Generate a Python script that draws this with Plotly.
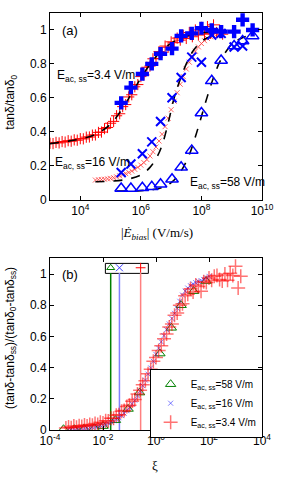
import plotly.graph_objects as go

# ---------------- panel (a) data ----------------
# dense red "+" series, E_ac,ss = 3.4 V/m
red_a_E = [1.00e3, 1.26e3, 1.58e3, 2.00e3, 2.51e3, 3.16e3, 3.98e3, 5.01e3, 6.31e3, 7.94e3,
           1.00e4, 1.26e4, 1.58e4, 2.00e4, 2.51e4, 3.16e4, 3.98e4, 5.01e4, 6.31e4, 7.94e4,
           1.00e5, 1.26e5, 1.58e5, 2.00e5, 2.51e5, 3.16e5, 3.98e5, 5.01e5, 6.31e5, 7.94e5,
           1.00e6, 1.26e6, 1.58e6, 2.00e6, 2.51e6, 3.16e6, 3.98e6, 5.01e6, 6.31e6, 7.94e6,
           1.00e7, 1.26e7, 1.58e7, 2.00e7, 2.51e7, 3.16e7, 3.98e7, 5.01e7, 6.31e7, 7.94e7,
           1.00e8, 1.26e8, 1.58e8, 2.00e8, 2.51e8, 3.16e8, 3.98e8, 5.01e8]
red_a_tan = [0.332, 0.330, 0.337, 0.334, 0.342, 0.339, 0.347, 0.344, 0.352, 0.350,
             0.359, 0.358, 0.368, 0.369, 0.380, 0.381, 0.396, 0.398, 0.418, 0.425,
             0.450, 0.461, 0.494, 0.506, 0.548, 0.560, 0.605, 0.618, 0.665, 0.678,
             0.725, 0.735, 0.780, 0.787, 0.830, 0.832, 0.872, 0.868, 0.905, 0.898,
             0.930, 0.925, 0.952, 0.940, 0.968, 0.950, 0.985, 0.960, 1.000, 0.970,
             1.015, 0.975, 1.020, 0.980, 1.030, 0.985, 1.000, 0.975]

# dense pink "x" series, E_ac,ss = 16 V/m
pink_a_E = [3.16e4, 3.98e4, 5.01e4, 6.31e4, 7.94e4,
            1.00e5, 1.26e5, 1.58e5, 2.00e5, 2.51e5, 3.16e5, 3.98e5, 5.01e5, 6.31e5, 7.94e5,
            1.00e6, 1.26e6, 1.58e6, 2.00e6, 2.51e6, 3.16e6, 3.98e6, 5.01e6, 6.31e6, 7.94e6,
            1.00e7, 1.26e7, 1.58e7, 2.00e7, 2.51e7, 3.16e7, 3.98e7, 5.01e7, 6.31e7, 7.94e7,
            1.00e8, 1.26e8, 1.58e8, 2.00e8, 2.51e8, 3.16e8]
pink_a_tan = [0.115, 0.117, 0.118, 0.120, 0.122,
              0.125, 0.129, 0.134, 0.140, 0.146, 0.153, 0.160, 0.168, 0.178, 0.190,
              0.203, 0.218, 0.236, 0.257, 0.282, 0.310, 0.345, 0.385, 0.430, 0.480,
              0.530, 0.580, 0.630, 0.680, 0.725, 0.770, 0.810, 0.845, 0.875, 0.900,
              0.920, 0.937, 0.950, 0.960, 0.968, 0.975]

# sparse blue markers (common E grid)
blue_E = [2.24e5, 4.68e5, 1.12e6, 2.29e6, 4.47e6, 1.07e7, 2.14e7, 4.79e7, 1.00e8,
          2.19e8, 4.47e8, 1.20e9, 2.29e9, 4.90e9]
blue_plus_tan = [0.57, 0.66, 0.74, 0.80, 0.86, 0.89, 0.965, 0.98, 1.01, 1.00, 0.99, 0.99, 1.06, 1.00]
blue_x_tan = [0.16, 0.21, 0.27, 0.34, 0.46, 0.60, 0.72, 0.84, 0.81, 0.97, 0.98, 0.90, 0.905]
blue_tri_tan = [0.065, 0.065, 0.07, 0.075, 0.09, 0.12, 0.19, 0.29, 0.51, 0.70, 0.82, 0.905, 0.935, 0.965]

# dashed fits
fit34_E = [1.00e3, 3.16e3, 1.00e4, 3.16e4, 1.00e5, 2.00e5, 3.98e5, 7.94e5, 1.58e6, 3.16e6,
           6.31e6, 1.26e7, 2.51e7, 5.01e7, 1.00e8, 2.00e8, 3.98e8, 6.31e8]
fit34_tan = [0.330, 0.342, 0.357, 0.384, 0.445, 0.513, 0.597, 0.687, 0.771, 0.842,
             0.896, 0.933, 0.958, 0.973, 0.983, 0.988, 0.992, 0.994]
fit16_E = [3.16e4, 1.00e5, 3.16e5, 1.00e6, 2.00e6, 3.16e6, 5.01e6, 7.94e6, 1.26e7, 2.00e7,
           3.16e7, 5.01e7, 7.94e7, 1.26e8, 2.00e8, 3.98e8, 6.31e8]
fit16_tan = [0.105, 0.108, 0.118, 0.145, 0.19, 0.24, 0.32, 0.45, 0.60, 0.71,
             0.80, 0.87, 0.915, 0.945, 0.962, 0.978, 0.985]
fit58_E = [1.58e5, 1.00e6, 3.16e6, 6.31e6, 1.00e7, 1.58e7, 2.51e7, 3.98e7, 6.31e7, 1.00e8,
           1.58e8, 2.51e8, 3.98e8, 6.31e8, 1.00e9, 2.00e9, 5.01e9]
fit58_tan = [0.05, 0.053, 0.062, 0.078, 0.10, 0.135, 0.19, 0.265, 0.37, 0.49,
             0.61, 0.72, 0.81, 0.87, 0.915, 0.95, 0.975]

# ---------------- panel (b) data ----------------
green_xi = [3.24e-4, 8.32e-4, 1.91e-3, 4.68e-3, 1.00e-2, 2.95e-2, 8.91e-2, 0.240, 1.41, 3.80, 8.91, 26.3, 77.6]
green_norm = [0.005, 0.005, 0.008, 0.012, 0.025, 0.063, 0.135, 0.24, 0.49, 0.655, 0.80, 0.89, 0.955]

bluex_xi = [5.01e-4, 6.31e-4, 7.94e-4, 1.00e-3, 1.26e-3, 1.58e-3, 2.00e-3, 2.51e-3, 3.16e-3, 3.98e-3,
            5.01e-3, 6.31e-3, 7.94e-3, 1.00e-2, 1.26e-2, 1.58e-2, 2.00e-2, 2.51e-2, 3.16e-2, 3.98e-2,
            5.01e-2, 6.31e-2, 7.94e-2, 0.100, 0.126, 0.158, 0.200, 0.251, 0.316, 0.398,
            0.501, 0.631, 0.794, 1.00, 1.26, 1.58, 2.00, 2.51, 3.16, 3.98,
            5.01, 6.31, 7.94, 10.0, 12.6, 15.8, 20.0, 25.1, 31.6, 39.8,
            50.1, 63.1, 79.4, 100.0]
bluex_norm = [0.004, 0.006, 0.008, 0.009, 0.011, 0.012, 0.013, 0.015, 0.017, 0.019,
              0.022, 0.025, 0.029, 0.033, 0.038, 0.044, 0.051, 0.059, 0.068, 0.079,
              0.092, 0.107, 0.124, 0.144, 0.166, 0.191, 0.219, 0.25, 0.284, 0.32,
              0.358, 0.398, 0.44, 0.484, 0.525, 0.565, 0.605, 0.643, 0.68, 0.715,
              0.748, 0.78, 0.825, 0.865, 0.89, 0.91, 0.925, 0.937, 0.945, 0.952,
              0.958, 0.965, 0.975, 0.985]

redp_xi = [3.98e-4, 5.01e-4, 6.31e-4, 7.94e-4, 1.00e-3, 1.26e-3, 1.58e-3, 2.00e-3, 2.51e-3, 3.16e-3,
           3.98e-3, 5.01e-3, 6.31e-3, 7.94e-3, 1.00e-2, 1.26e-2, 1.58e-2, 2.00e-2, 2.51e-2, 3.16e-2,
           3.98e-2, 5.01e-2, 6.31e-2, 7.94e-2, 0.100, 0.126, 0.158, 0.200, 0.251, 0.316,
           0.398, 0.501, 0.631, 0.794, 1.00, 1.26, 1.58, 2.00, 2.51, 3.16,
           3.98, 5.01, 6.31, 7.94, 10.0, 12.6, 15.8, 20.0, 25.1, 31.6,
           39.8, 50.1, 63.1, 79.4, 100.0, 126.0, 158.0, 200.0, 251.0, 316.0,
           398.0, 501.0, 631.0, 794.0, 1000.0, 1260.0, 1580.0]
redp_norm = [0.012, 0.020, 0.015, 0.025, 0.018, 0.028, 0.022, 0.032, 0.026, 0.036,
             0.030, 0.042, 0.036, 0.050, 0.045, 0.060, 0.058, 0.075, 0.075, 0.095,
             0.098, 0.120, 0.125, 0.150, 0.158, 0.185, 0.195, 0.230, 0.255, 0.290,
             0.315, 0.360, 0.390, 0.440, 0.465, 0.510, 0.540, 0.585, 0.615, 0.660,
             0.680, 0.735, 0.750, 0.800, 0.810, 0.860, 0.870, 0.905, 0.885, 0.930,
             0.920, 0.890, 0.950, 0.945, 0.975, 0.960, 0.985, 0.990, 0.965, 0.955,
             1.000, 0.960, 1.005, 0.990, 1.050, 0.910, 0.985]

# onset markers (vertical lines) for the three data sets: 58, 16, 3.4 V/m
onset_xi = [0.0195, 0.0417, 0.263]
onset_colors = ["rgb(0,128,0)", "rgb(128,128,255)", "rgb(255,128,128)"]
onset_symbols = ["triangle-up-open", "x-thin-open", "cross-thin-open"]
onset_marker_colors = ["rgb(0,128,0)", "rgb(60,60,255)", "rgb(255,0,0)"]

legend_names = ["E<sub>ac, ss</sub>=58 V/m", "E<sub>ac, ss</sub>=16 V/m", "E<sub>ac, ss</sub>=3.4 V/m"]

FONT = "Liberation Sans, Arial, sans-serif"
SERIF = "Liberation Serif, DejaVu Serif, serif"

RED = "rgb(255,0,0)"
BLUE = "rgb(0,0,255)"
GREEN = "rgb(0,128,0)"

fig = go.Figure()

# ---- panel (a) traces ----
fig.add_trace(go.Scatter(x=red_a_E, y=red_a_tan, mode="markers", xaxis="x", yaxis="y", showlegend=False,
                         marker=dict(symbol="cross-thin-open", size=8, color=RED, line=dict(width=1, color=RED))))
fig.add_trace(go.Scatter(x=pink_a_E, y=pink_a_tan, mode="markers", xaxis="x", yaxis="y", showlegend=False,
                         marker=dict(symbol="x-thin-open", size=5, color="rgba(255,50,50,0.75)",
                                     line=dict(width=1, color="rgba(255,50,50,0.75)"))))
for fx, fy in [(fit34_E, fit34_tan), (fit16_E, fit16_tan), (fit58_E, fit58_tan)]:
    fig.add_trace(go.Scatter(x=fx, y=fy, mode="lines", xaxis="x", yaxis="y", showlegend=False,
                             line=dict(color="black", width=1.6, dash="dash", shape="spline")))
fig.add_trace(go.Scatter(x=blue_E, y=blue_plus_tan, mode="markers", xaxis="x", yaxis="y", showlegend=False,
                         marker=dict(symbol="cross", size=11, color=BLUE, line=dict(width=0))))
fig.add_trace(go.Scatter(x=blue_E[:len(blue_x_tan)], y=blue_x_tan, mode="markers", xaxis="x", yaxis="y",
                         showlegend=False,
                         marker=dict(symbol="x-thin-open", size=9, color=BLUE, line=dict(width=2, color=BLUE))))
fig.add_trace(go.Scatter(x=blue_E, y=blue_tri_tan, mode="markers", xaxis="x", yaxis="y", showlegend=False,
                         marker=dict(symbol="triangle-up-open", size=11, color=BLUE,
                                     line=dict(width=1.5, color=BLUE))))

# ---- panel (b) traces ----
for xv, col in zip(onset_xi, onset_colors):
    fig.add_trace(go.Scatter(x=[xv, xv], y=[0, 1.006], mode="lines", xaxis="x2", yaxis="y2", showlegend=False,
                             line=dict(color=col, width=1.5)))
fig.add_trace(go.Scatter(x=green_xi, y=green_norm, mode="markers", xaxis="x2", yaxis="y2", name=legend_names[0],
                         marker=dict(symbol="triangle-up-open", size=9, color=GREEN,
                                     line=dict(width=1, color=GREEN))))
fig.add_trace(go.Scatter(x=bluex_xi, y=bluex_norm, mode="markers", xaxis="x2", yaxis="y2", name=legend_names[1],
                         marker=dict(symbol="x-thin-open", size=5, color="rgba(40,40,255,0.6)",
                                     line=dict(width=1, color="rgba(40,40,255,0.6)"))))
fig.add_trace(go.Scatter(x=redp_xi, y=redp_norm, mode="markers", xaxis="x2", yaxis="y2", name=legend_names[2],
                         marker=dict(symbol="cross-thin-open", size=10, color="rgba(255,0,0,0.55)",
                                     line=dict(width=1.5, color="rgba(255,0,0,0.55)"))))
for xv, sym, col in zip(onset_xi, onset_symbols, onset_marker_colors):
    fig.add_trace(go.Scatter(x=[xv], y=[1.04], mode="markers", xaxis="x2", yaxis="y2", showlegend=False,
                             cliponaxis=False,
                             marker=dict(symbol=sym, size=7, color=col, line=dict(width=1, color=col))))

axis_common = dict(showline=True, linecolor="black", linewidth=1, mirror="allticks", ticks="inside",
                   ticklen=4, tickcolor="black", showgrid=False, zeroline=False,
                   tickfont=dict(family=FONT, size=12, color="black"))

fig.update_layout(
    width=286, height=490,
    margin=dict(l=50, r=14, t=12, b=60),
    paper_bgcolor="white", plot_bgcolor="white",
    xaxis=dict(type="log", range=[3, 10], domain=[0, 1], anchor="y",
               tickvals=[1e4, 1e6, 1e8, 1e10],
               ticktext=["10<sup>4</sup>", "10<sup>6</sup>", "10<sup>8</sup>", "10<sup>10</sup>"],
               **axis_common),
    yaxis=dict(range=[0, 1.1], domain=[0.5526, 1], anchor="x",
               tickvals=[0, 0.2, 0.4, 0.6, 0.8, 1], ticktext=["0", "0.2", "0.4", "0.6", "0.8", "1"],
               **axis_common),
    xaxis2=dict(type="log", range=[-4, 4], domain=[0, 1], anchor="y2",
                tickvals=[1e-4, 1e-2, 1, 1e2, 1e4],
                ticktext=["10<sup>-4</sup>", "10<sup>-2</sup>", "10<sup>0</sup>", "10<sup>2</sup>", "10<sup>4</sup>"],
                **axis_common),
    yaxis2=dict(range=[0, 1.1], domain=[0, 0.4115], anchor="x2",
                tickvals=[0, 0.2, 0.4, 0.6, 0.8, 1], ticktext=["0", "0.2", "0.4", "0.6", "0.8", "1"],
                **axis_common),
    showlegend=True,
    legend=dict(x=0.47, y=0.147, xanchor="left", yanchor="top", bgcolor="white",
                bordercolor="black", borderwidth=1, font=dict(family=FONT, size=10, color="black"),
                tracegroupgap=0, itemsizing="trace", itemwidth=30),
)

def pap_x(px):
    return (px - 50) / 222.0

def pap_y(py):
    return (430 - py) / 418.0

ann = [
    dict(text="(a)", x=pap_x(60), y=pap_y(30), xanchor="left", yanchor="middle", font=dict(size=13)),
    dict(text="(b)", x=pap_x(60), y=pap_y(274), xanchor="left", yanchor="middle", font=dict(size=13)),
    dict(text="E<sub>ac, ss</sub>=3.4 V/m", x=pap_x(55), y=pap_y(75), xanchor="left", yanchor="middle",
         font=dict(size=12)),
    dict(text="E<sub>ac, ss</sub>=16 V/m", x=pap_x(53), y=pap_y(162), xanchor="left", yanchor="middle",
         font=dict(size=12)),
    dict(text="E<sub>ac, ss</sub>=58 V/m", x=pap_x(194), y=pap_y(182), xanchor="left", yanchor="middle",
         font=dict(size=12)),
    dict(text="tanδ/tanδ<sub>0</sub>", x=pap_x(9), y=pap_y(101), xanchor="center", yanchor="middle",
         textangle=-90, font=dict(size=12)),
    dict(text="(tanδ-tanδ<sub>ss</sub>)/(tanδ<sub>0</sub>-tanδ<sub>ss</sub>)", x=pap_x(9), y=pap_y(338),
         xanchor="center", yanchor="middle", textangle=-90, font=dict(size=12)),
    dict(text="|<i>Ė</i><sub><i>bias</i></sub>| (V/m/s)", x=pap_x(162), y=pap_y(233), xanchor="center",
         yanchor="middle", font=dict(size=13, family=SERIF)),
    dict(text="ξ", x=pap_x(160), y=pap_y(466), xanchor="center", yanchor="middle",
         font=dict(size=13, family=SERIF)),
]
for a in ann:
    a.setdefault("xref", "paper")
    a.setdefault("yref", "paper")
    a["showarrow"] = False
    f = a.get("font", {})
    f.setdefault("family", FONT)
    f.setdefault("color", "black")
    a["font"] = f
fig.update_layout(annotations=ann)

# small box holding the onset markers
fig.add_shape(type="rect", xref="paper", yref="paper", x0=pap_x(108), x1=pap_x(153), y0=pap_y(273), y1=pap_y(263),
              line=dict(color="black", width=1), fillcolor="rgba(0,0,0,0)", layer="below")

fig.write_html("out.html", config={"displayModeBar": False, "staticPlot": True},
               post_script="document.body.style.margin='0px';document.body.style.overflow='hidden';")
